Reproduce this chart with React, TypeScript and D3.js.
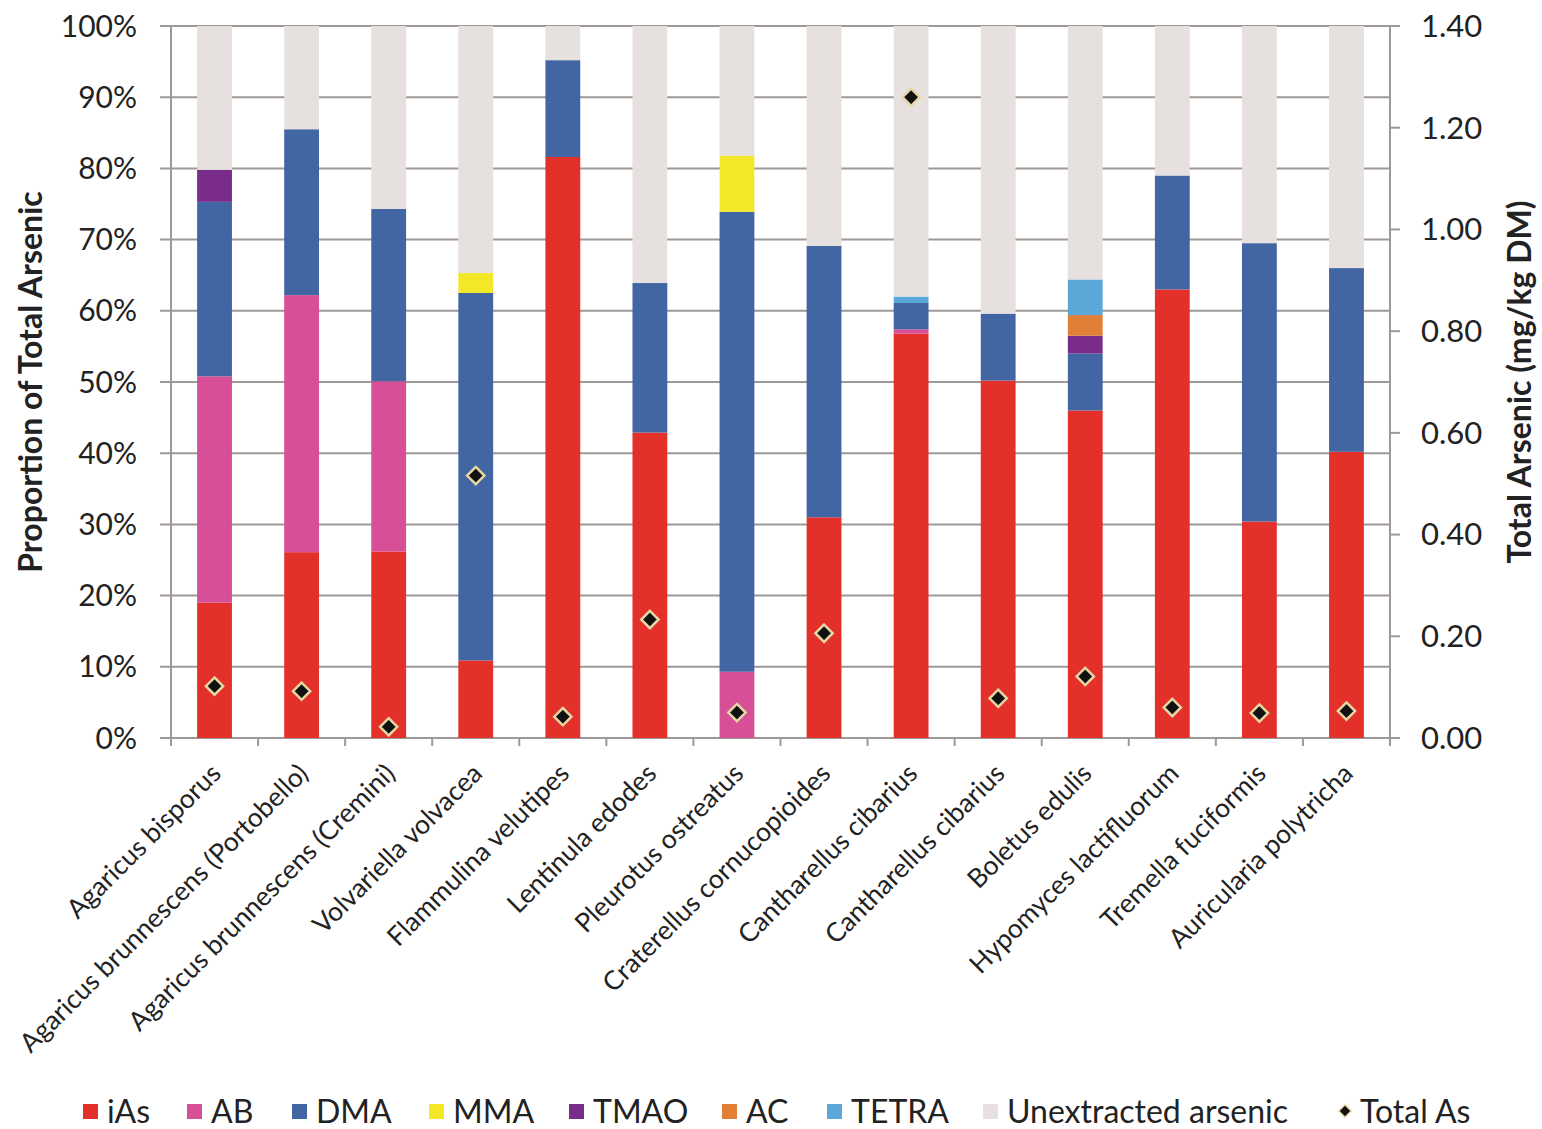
import React from "react";
import * as d3 from "d3";

const categories = [
  "Agaricus bisporus",
  "Agaricus brunnescens (Portobello)",
  "Agaricus brunnescens (Cremini)",
  "Volvariella volvacea",
  "Flammulina velutipes",
  "Lentinula edodes",
  "Pleurotus ostreatus",
  "Craterellus cornucopioides",
  "Cantharellus cibarius",
  "Cantharellus cibarius",
  "Boletus edulis",
  "Hypomyces lactifluorum",
  "Tremella fuciformis",
  "Auricularia polytricha",
];

// percentages of total arsenic
const iAs = [19.0, 26.1, 26.2, 10.9, 81.6, 42.9, 0, 31.0, 56.8, 50.2, 46.0, 63.0, 30.4, 40.2];
const AB = [31.8, 36.1, 23.9, 0, 0, 0, 9.3, 0, 0.6, 0, 0, 0, 0, 0];
const DMA = [24.5, 23.3, 24.2, 51.6, 13.6, 21.0, 64.6, 38.1, 3.7, 9.4, 8.0, 16.0, 39.1, 25.8];
const MMA = [0, 0, 0, 2.8, 0, 0, 7.9, 0, 0, 0, 0, 0, 0, 0];
const TMAO = [4.5, 0, 0, 0, 0, 0, 0, 0, 0, 0, 2.5, 0, 0, 0];
const AC = [0, 0, 0, 0, 0, 0, 0, 0, 0, 0, 2.9, 0, 0, 0];
const TETRA = [0, 0, 0, 0, 0, 0, 0, 0, 0.9, 0, 5.0, 0, 0, 0];
// total arsenic, mg/kg DM
const totalAs = [0.102, 0.092, 0.022, 0.516, 0.042, 0.233, 0.05, 0.206, 1.26, 0.078, 0.121, 0.06, 0.049, 0.053];

const seriesNames = ["iAs", "AB", "DMA", "MMA", "TMAO", "AC", "TETRA", "Unextracted arsenic"];
const seriesColors = ["#e4302a", "#d64f97", "#4265a3", "#f3e727", "#7a2c8a", "#e27f36", "#5ba7d8", "#e6e0de"];
const leftTicks = [0, 10, 20, 30, 40, 50, 60, 70, 80, 90, 100];
const rightTicks = [0, 0.2, 0.4, 0.6, 0.8, 1.0, 1.2, 1.4];

const FONT = "Lato, 'Open Sans', sans-serif";

export default function App() {
  const W = 1542, H = 1129;
  const left = 171, right = 1390, top = 26, bottom = 738;
  const x = d3.scaleBand<number>().domain(d3.range(categories.length)).range([left, right]).paddingInner(0.6).paddingOuter(0.3);
  const xb = d3.scaleBand<number>().domain(d3.range(categories.length)).range([left, right]);
  const y = d3.scaleLinear().domain([0, 100]).range([bottom, top]);
  const y2 = d3.scaleLinear().domain([0, 1.4]).range([bottom, top]);

  const unextracted = categories.map((_, i) => 100 - iAs[i] - AB[i] - DMA[i] - MMA[i] - TMAO[i] - AC[i] - TETRA[i]);
  const seriesVals = [iAs, AB, DMA, MMA, TMAO, AC, TETRA, unextracted];
  const rows = categories.map((_, i) => {
    const r: any = { i };
    seriesNames.forEach((s, k) => (r[s] = seriesVals[k][i]));
    return r;
  });
  const stacked = d3.stack<any>().keys(seriesNames)(rows);
  const gridColor = "#9e9896";
  const diamond = d3.symbol().type(d3.symbolDiamond2).size(190)()!;

  const legendItems = [
    { x: 83, label: "iAs", c: 0 },
    { x: 187, label: "AB", c: 1 },
    { x: 292, label: "DMA", c: 2 },
    { x: 429, label: "MMA", c: 3 },
    { x: 569, label: "TMAO", c: 4 },
    { x: 722, label: "AC", c: 5 },
    { x: 827, label: "TETRA", c: 6 },
    { x: 983, label: "Unextracted arsenic", c: 7 },
  ];

  return (
    <svg width={W} height={H} style={{ position: "absolute", left: 0, top: 0, background: "#fff" }} fontFamily={FONT}>
      <rect width={W} height={H} fill="#fff" />
      {/* gridlines */}
      {leftTicks.map((t) => (
        <line key={t} x1={160} x2={right} y1={y(t)} y2={y(t)} stroke={gridColor} strokeWidth={2} />
      ))}
      {/* bars */}
      {stacked.map((s, k) => (
        <g key={k} fill={seriesColors[k]}>
          {s.map((d, i) =>
            d[1] - d[0] > 0 ? (
              <rect key={i} x={x(i)} width={x.bandwidth()} y={y(d[1])} height={y(d[0]) - y(d[1])} />
            ) : null
          )}
        </g>
      ))}
      {/* axes */}
      <line x1={left} x2={left} y1={top} y2={bottom + 8} stroke={gridColor} strokeWidth={2} />
      <line x1={right} x2={right} y1={top} y2={bottom + 8} stroke={gridColor} strokeWidth={2} />
      {d3.range(1, categories.length).map((i) => (
        <line key={i} x1={xb(i)} x2={xb(i)} y1={bottom} y2={bottom + 8} stroke={gridColor} strokeWidth={2} />
      ))}
      {rightTicks.map((t) => (
        <line key={t} x1={right} x2={right + 10} y1={y2(t)} y2={y2(t)} stroke={gridColor} strokeWidth={2} />
      ))}
      {/* left tick labels */}
      {leftTicks.map((t) => (
        <text key={t} x={137} y={y(t)} dy="0.35em" textAnchor="end" fontSize={30} fill="#222">
          {t + "%"}
        </text>
      ))}
      {rightTicks.map((t) => (
        <text key={t} x={1421} y={y2(t)} dy="0.35em" textAnchor="start" fontSize={31} fill="#222">
          {d3.format(".2f")(t)}
        </text>
      ))}
      {/* axis titles */}
      <text transform={`translate(42,382) rotate(-90)`} textAnchor="middle" fontSize={32} fontWeight="bold" fill="#222">
        Proportion of Total Arsenic
      </text>
      <text transform={`translate(1531,382) rotate(-90)`} textAnchor="middle" fontSize={32} fontWeight="bold" fill="#222">
        Total Arsenic (mg/kg DM)
      </text>
      {/* category labels */}
      {categories.map((c, i) => {
        const cx = x(i)! + x.bandwidth() / 2 - 5;
        return (
          <text key={i} transform={`translate(${cx},${bottom + 24}) rotate(-45)`} textAnchor="end" dy="0.7em" fontSize={26.5} fill="#222">
            {c}
          </text>
        );
      })}
      {/* total As diamonds */}
      {totalAs.map((v, i) => (
        <path
          key={i}
          d={diamond}
          transform={`translate(${x(i)! + x.bandwidth() / 2},${y2(v)})`}
          fill="#111"
          stroke="#e6d6a2"
          strokeWidth={2.5}
        />
      ))}
      {/* legend */}
      {legendItems.map((l) => (
        <g key={l.label}>
          <rect x={l.x} y={1104} width={15} height={15} fill={seriesColors[l.c]} />
          <text x={l.x + 24} y={1111} dy="0.36em" fontSize={32} fill="#222">
            {l.label}
          </text>
        </g>
      ))}
      <path d={d3.symbol().type(d3.symbolDiamond2).size(100)()!} transform="translate(1345,1111)" fill="#111" stroke="#e6d6a2" strokeWidth={1.5} />
      <text x={1360} y={1111} dy="0.36em" fontSize={32} fill="#222">
        Total As
      </text>
    </svg>
  );
}
